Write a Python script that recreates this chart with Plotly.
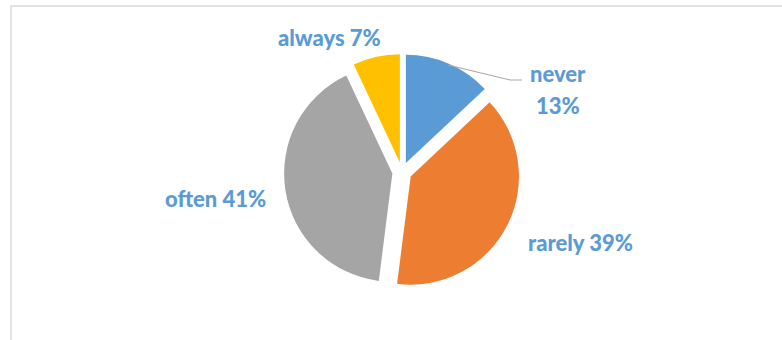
import plotly.graph_objects as go

W, H = 782, 340

categories = ["never", "rarely", "often", "always"]
values = [13, 39, 41, 7]
colors = ["#5B9BD5", "#ED7D31", "#A5A5A5", "#FFC000"]
label_texts = ["never<br>13%", "rarely 39%", "often 41%", "always 7%"]

def px(x):
    return x / W

def py(y):
    return 1 - y / H

fig = go.Figure()
fig.add_trace(go.Pie(
    labels=categories,
    values=values,
    sort=False,
    direction="clockwise",
    rotation=0,
    pull=[0.09, 0.09, 0.09, 0.09],
    marker=dict(colors=colors, line=dict(color="white", width=0)),
    textinfo="none",
    hoverinfo="label+percent",
    domain=dict(x=[px(22), px(782)], y=[py(290), py(54)]),
    showlegend=False,
))

# label positions (pixel, centre of first line) for each category
label_pos = {"never": (558, 73), "rarely": (580, 242), "often": (215, 198), "always": (329, 37)}
line_gap = 32
for cat, txt in zip(categories, label_texts):
    x, y = label_pos[cat]
    for i, line in enumerate(txt.split("<br>")):
        fig.add_annotation(
            x=px(x), y=py(y + i * line_gap), xref="paper", yref="paper",
            text=line, showarrow=False,
            font=dict(family="Lato", size=22, color="#5B9BD5", weight=900),
            xanchor="center", yanchor="middle", align="center",
        )

# leader line for "never"
fig.add_shape(type="path", xref="paper", yref="paper",
              path=f"M {px(448)} {py(65)} L {px(510)} {py(80)} L {px(522)} {py(80)}",
              line=dict(color="#A6A6A6", width=1))

# chart border
fig.add_shape(type="rect", xref="paper", yref="paper",
              x0=px(11), y0=py(345), x1=px(790), y1=py(6),
              line=dict(color="#D9D9D9", width=1.5))

fig.update_layout(
    width=W, height=H,
    margin=dict(l=0, r=0, t=0, b=0),
    paper_bgcolor="white",
    plot_bgcolor="white",
)

fig.write_html("out.html")
